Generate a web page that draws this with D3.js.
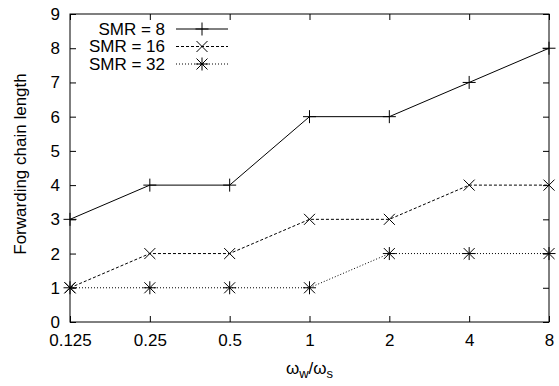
<!DOCTYPE html>
<html>
<head>
<meta charset="utf-8">
<script src="https://cdn.jsdelivr.net/npm/d3@7"></script>
<style>
  html, body { margin: 0; padding: 0; background: #fff; }
  svg { display: block; font-family: "Liberation Sans", Arial, Helvetica, sans-serif; }
</style>
</head>
<body>
<svg id="chart" width="559" height="386"></svg>
<script>
// Ratio of write to scan weights (log2-spaced categories)
const ratios = ["0.125", "0.25", "0.5", "1", "2", "4", "8"];
const smr8  = [3, 4, 4, 6, 6, 7, 8];
const smr16 = [1, 2, 2, 3, 3, 4, 4];
const smr32 = [1, 1, 1, 1, 2, 2, 2];
const seriesNames = ["SMR = 8", "SMR = 16", "SMR = 32"];
const yTicks = [0, 1, 2, 3, 4, 5, 6, 7, 8, 9];

const series = [
  { name: seriesNames[0], values: smr8,  dash: null,  marker: "plus" },
  { name: seriesNames[1], values: smr16, dash: "3,2", marker: "cross" },
  { name: seriesNames[2], values: smr32, dash: "1,2", marker: "star" }
];

const svg = d3.select("#chart");
const m = { left: 70, right: 549, top: 14, bottom: 322 };

const x = d3.scalePoint().domain(ratios).range([m.left, m.right]);
const y = d3.scaleLinear().domain([0, 9]).range([m.bottom, m.top]);

const tickLen = 6;
const fontSize = 17;

// Frame
svg.append("rect")
  .attr("x", m.left).attr("y", m.top)
  .attr("width", m.right - m.left).attr("height", m.bottom - m.top)
  .attr("fill", "none").attr("stroke", "#000").attr("stroke-width", 1);

// Axes with inward ticks on all four sides
const axB = d3.axisBottom(x).tickSize(-tickLen).tickPadding(12);
const axT = d3.axisTop(x).tickSize(-tickLen).tickFormat("");
const axL = d3.axisLeft(y).tickValues(yTicks).tickSize(-tickLen).tickPadding(10).tickFormat(d3.format("d"));
const axR = d3.axisRight(y).tickValues(yTicks).tickSize(-tickLen).tickFormat("");

function styleAxis(g) {
  g.select(".domain").remove();
  g.selectAll(".tick line").attr("stroke", "#000");
  g.selectAll(".tick text").attr("fill", "#000")
    .style("font-size", fontSize + "px")
    .style("font-family", "'Liberation Sans', Arial, sans-serif");
}
svg.append("g").attr("transform", `translate(0,${m.bottom})`).call(axB).call(styleAxis);
svg.append("g").attr("transform", `translate(0,${m.top})`).call(axT).call(styleAxis);
svg.append("g").attr("transform", `translate(${m.left},0)`).call(axL).call(styleAxis);
svg.append("g").attr("transform", `translate(${m.right},0)`).call(axR).call(styleAxis);

// Axis titles
svg.append("text")
  .attr("transform", `translate(26,164) rotate(-90)`)
  .attr("text-anchor", "middle")
  .style("font-size", fontSize + "px")
  .text("Forwarding chain length");

const xt = svg.append("text")
  .attr("x", x("1")).attr("y", 374)
  .attr("text-anchor", "middle")
  .style("font-size", fontSize + "px");
xt.append("tspan").text("ω");
xt.append("tspan").attr("dy", 4).style("font-size", "13px").text("w");
xt.append("tspan").attr("dy", -4).text("/ω");
xt.append("tspan").attr("dy", 4).style("font-size", "13px").text("s");

// Marker drawing
function drawMarker(g, type, cx, cy) {
  const s = 6.5, c = 5.5;
  const p = d3.path();
  if (type === "plus" || type === "star") {
    p.moveTo(cx - s, cy); p.lineTo(cx + s, cy);
    p.moveTo(cx, cy - s); p.lineTo(cx, cy + s);
  }
  if (type === "cross" || type === "star") {
    p.moveTo(cx - c, cy - c); p.lineTo(cx + c, cy + c);
    p.moveTo(cx - c, cy + c); p.lineTo(cx + c, cy - c);
  }
  g.append("path").attr("d", p.toString())
    .attr("stroke", "#000").attr("stroke-width", 1).attr("fill", "none");
}

const line = d3.line().x((d, i) => x(ratios[i])).y(d => y(d));

series.forEach(s => {
  const g = svg.append("g");
  g.append("path").datum(s.values)
    .attr("d", line)
    .attr("fill", "none").attr("stroke", "#000").attr("stroke-width", 1)
    .attr("stroke-dasharray", s.dash);
  s.values.forEach((v, i) => drawMarker(g, s.marker, x(ratios[i]), y(v)));
});

// Legend
const legTextX = 165, legLineX0 = 176, legLineX1 = 228, legY0 = 29, legDy = 17.5;
series.forEach((s, i) => {
  const ly = legY0 + i * legDy;
  svg.append("text")
    .attr("x", legTextX).attr("y", ly).attr("dy", "0.35em")
    .attr("text-anchor", "end")
    .style("font-size", fontSize + "px")
    .text(s.name);
  svg.append("line")
    .attr("x1", legLineX0).attr("x2", legLineX1).attr("y1", ly).attr("y2", ly)
    .attr("stroke", "#000").attr("stroke-width", 1)
    .attr("stroke-dasharray", s.dash);
  drawMarker(svg, s.marker, (legLineX0 + legLineX1) / 2, ly);
});
</script>
</body>
</html>
